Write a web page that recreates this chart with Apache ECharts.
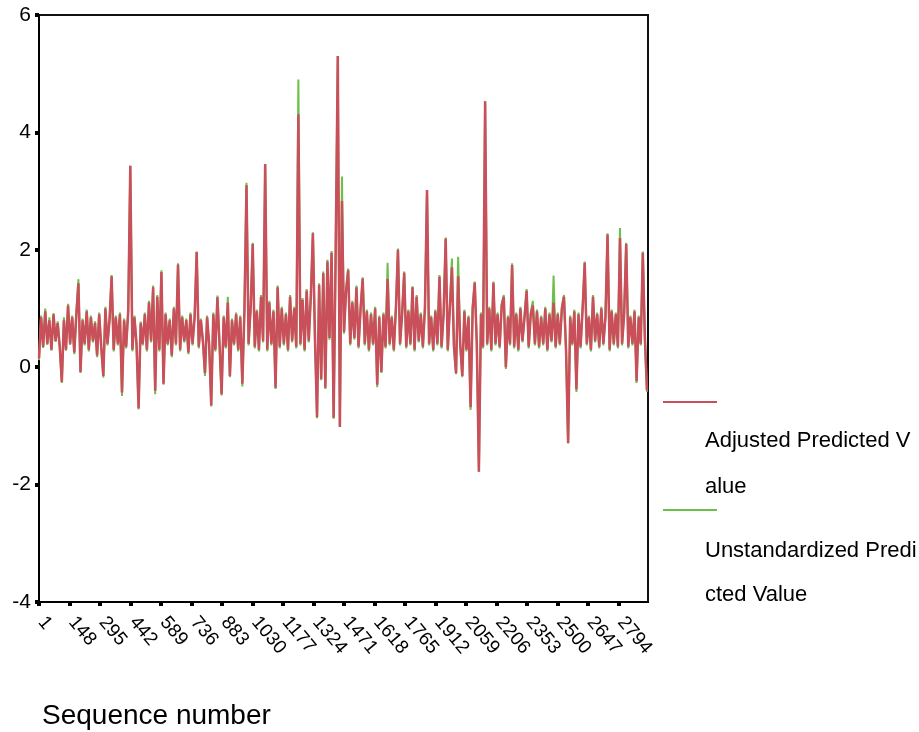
<!DOCTYPE html>
<html>
<head>
<meta charset="utf-8">
<title>Sequence chart</title>
<script src="https://cdn.jsdelivr.net/npm/echarts@6/dist/echarts.min.js"></script>
<style>
    html, body { margin: 0; padding: 0; background: #fff; }
    #chart { width: 919px; height: 732px; }
</style>
</head>
<body>
<div id="chart"></div>
<script>
    // one reading every 10 sequence numbers, first at 1
    var seqStart = 1;
    var seqStep = 10;
    var xTicks = [1, 148, 295, 442, 589, 736, 883, 1030, 1177, 1324, 1471, 1618, 1765, 1912, 2059, 2206, 2353, 2500, 2647, 2794];
    var yTicks = [-4, -2, 0, 2, 4, 6];

    // Adjusted Predicted Value (red)
    var adjusted = [
        0.15, 0.85, 0.35, 0.95, 0.4, 0.8, 0.3, 0.9, 0.45, 0.75,
        0.35, -0.25, 0.8, 0.3, 1.05, 0.4, 0.85, 0.25, 0.9, 1.43,
        -0.08, 0.8, 0.4, 0.95, 0.3, 0.85, 0.45, 0.75, 0.2, 0.9,
        0.35, -0.15, 1.0, 0.4, 0.8, 1.55, 0.3, 0.85, 0.4, 0.9,
        -0.43, 0.8, 0.35, 0.95, 3.43, 0.3, 0.85, 0.4, -0.7, 0.75,
        0.4, 0.9, 0.3, 1.1, 0.45, 1.36, -0.4, 1.2, 0.3, 1.62,
        -0.28, 0.9, 0.4, 0.8, 0.2, 1.0, 0.4, 1.75, 0.3, 0.85,
        0.45, 0.8, 0.25, 0.9, 0.4, 0.85, 1.96, 0.35, 0.8, 0.45,
        -0.1, 0.85, 0.4, -0.65, 0.9, 0.3, 1.19, 0.4, -0.46, 0.85,
        0.35, 1.1, -0.15, 0.8, 0.4, 0.9, 0.3, 0.85, -0.28, 0.95,
        3.1, 0.4, 1.0, 2.1, 0.35, 0.95, 0.3, 1.2, 0.45, 3.46,
        0.3, 1.1, 0.4, 0.95, -0.35, 1.36, 0.35, 1.0, 0.4, 0.9,
        0.3, 1.2, 0.45, 1.0, 0.35, 4.31, 0.4, 1.15, 0.3, 1.3,
        0.45, 1.2, 2.28, 0.5, -0.85, 1.4, -0.2, 1.6, -0.35, 1.8,
        0.5, 1.95, -0.86, 2.05, 5.3, -1.02, 2.83, 0.6, 1.3, 1.65,
        0.4, 1.1, 0.5, 1.36, 0.35, 1.0, 1.51, 0.4, 0.95, 0.3,
        0.9, 0.4, 1.0, -0.3, 0.85, -0.08, 0.9, 0.35, 1.5, 0.4,
        0.85, 0.3, 1.0, 2.0, 0.4, 0.9, 1.61, 0.35, 0.95, 0.4,
        1.36, 0.3, 1.2, 0.45, 0.9, 0.35, 1.0, 3.02, 0.4, 0.85,
        0.3, 0.95, 0.4, 1.54, 0.35, 0.9, 2.19, 0.3, 1.0, 1.7,
        0.35, -0.1, 1.55, 0.4, -0.15, 0.95, 0.3, 0.85, -0.68, 1.0,
        1.44, 0.4, -1.78, 0.9, 0.35, 4.53, 0.4, 1.0, 0.3, 1.44,
        0.4, 0.9, 0.35, 1.05, 1.2, 0.0, 0.85, 0.4, 1.74, 0.35,
        0.9, 0.3, 1.0, 0.45, 0.85, 1.3, 0.35, 0.9, 1.05, 0.4,
        0.95, 0.35, 0.85, 0.4, 1.0, 0.3, 0.9, 0.45, 1.1, 0.35,
        0.9, 0.4, 1.0, 1.2, 0.3, -1.29, 0.85, 0.4, 0.95, -0.38,
        0.9, 0.35, 1.0, 1.78, 0.4, 0.85, 0.3, 1.2, 0.45, 0.9,
        0.35, 1.0, 0.4, 0.85, 2.26, 0.3, 0.95, 0.4, 0.9, 0.35,
        2.2, 0.4, 0.9, 2.1, 0.35, 0.85, 0.4, 0.95, -0.24, 0.85,
        0.4, 1.95, 0.5, -0.39
    ];

    // Unstandardized Predicted Value (green), mostly hidden under the red line
    var unstandardized = [
        0.12, 0.88, 0.33, 1.0, 0.38, 0.85, 0.28, 0.92, 0.43, 0.78,
        0.33, -0.27, 0.85, 0.28, 1.08, 0.38, 0.88, 0.22, 0.93, 1.5,
        -0.1, 0.83, 0.37, 0.98, 0.27, 0.88, 0.42, 0.78, 0.17, 0.93,
        0.33, -0.18, 1.03, 0.37, 0.83, 1.57, 0.27, 0.88, 0.37, 0.93,
        -0.49, 0.83, 0.32, 0.98, 3.43, 0.27, 0.88, 0.37, -0.72, 0.78,
        0.37, 0.93, 0.27, 1.13, 0.42, 1.39, -0.46, 1.23, 0.27, 1.65,
        -0.3, 0.93, 0.37, 0.83, 0.17, 1.03, 0.37, 1.77, 0.27, 0.88,
        0.42, 0.83, 0.22, 0.93, 0.37, 0.88, 1.97, 0.32, 0.83, 0.42,
        -0.15, 0.88, 0.37, -0.67, 0.93, 0.27, 1.22, 0.37, -0.48, 0.88,
        0.32, 1.2, -0.17, 0.83, 0.37, 0.93, 0.27, 0.88, -0.33, 0.98,
        3.14, 0.37, 1.03, 2.12, 0.32, 0.98, 0.27, 1.23, 0.42, 3.46,
        0.27, 1.13, 0.37, 0.98, -0.37, 1.39, 0.32, 1.03, 0.37, 0.93,
        0.27, 1.23, 0.42, 1.03, 0.32, 4.9, 0.37, 1.18, 0.27, 1.33,
        0.42, 1.23, 2.3, 0.47, -0.87, 1.43, -0.22, 1.63, -0.37, 1.83,
        0.47, 1.98, -0.88, 2.07, 5.3, -1.02, 3.25, 0.57, 1.33, 1.68,
        0.37, 1.13, 0.47, 1.39, 0.32, 1.03, 1.53, 0.37, 0.98, 0.27,
        0.93, 0.37, 1.03, -0.34, 0.88, -0.1, 0.93, 0.32, 1.78, 0.37,
        0.88, 0.27, 1.03, 2.02, 0.37, 0.93, 1.63, 0.32, 0.98, 0.37,
        1.38, 0.27, 1.23, 0.42, 0.93, 0.32, 1.03, 3.02, 0.37, 0.88,
        0.27, 0.98, 0.37, 1.57, 0.32, 0.93, 2.21, 0.27, 1.03, 1.85,
        0.32, -0.12, 1.88, 0.37, -0.17, 0.98, 0.27, 0.88, -0.73, 1.03,
        1.46, 0.37, -1.78, 0.93, 0.32, 4.53, 0.37, 1.03, 0.27, 1.46,
        0.37, 0.93, 0.32, 1.08, 1.23, -0.03, 0.88, 0.37, 1.77, 0.32,
        0.93, 0.27, 1.03, 0.42, 0.88, 1.33, 0.32, 0.93, 1.13, 0.37,
        0.98, 0.32, 0.88, 0.37, 1.03, 0.27, 0.93, 0.42, 1.56, 0.32,
        0.93, 0.37, 1.03, 1.23, 0.27, -1.3, 0.88, 0.37, 0.98, -0.42,
        0.93, 0.32, 1.03, 1.8, 0.37, 0.88, 0.27, 1.23, 0.42, 0.93,
        0.32, 1.03, 0.37, 0.88, 2.28, 0.27, 0.98, 0.37, 0.93, 0.32,
        2.37, 0.37, 0.93, 2.12, 0.32, 0.88, 0.37, 0.98, -0.27, 0.88,
        0.37, 1.97, 0.47, -0.42
    ];

    var red = '#c94f5b';
    var green = '#6cc04a';
    var font = '"Liberation Sans", Arial, sans-serif';

    function toPoints(values) {
        return values.map(function (v, i) {
            return [seqStart + i * seqStep, v];
        });
    }

    var chart = echarts.init(document.getElementById('chart'));
    chart.setOption({
        animation: false,
        backgroundColor: '#fff',
        title: {
            text: 'Sequence number',
            left: 37,
            top: 697,
            textStyle: { fontFamily: font, fontSize: 28, fontWeight: 'normal', color: '#000' }
        },
        grid: {
            left: 39,
            right: 271,
            top: 15,
            bottom: 130,
            show: true,
            borderColor: '#111',
            borderWidth: 2,
            backgroundColor: 'transparent'
        },
        xAxis: {
            type: 'value',
            min: 1,
            max: 2936,
            interval: 147,
            axisLine: { onZero: false, lineStyle: { color: '#000', width: 2 } },
            axisTick: { length: 4, lineStyle: { color: '#000', width: 4 } },
            splitLine: { show: false },
            axisLabel: {
                rotate: -50,
                margin: 14,
                padding: [0, 0, 0, 4],
                showMaxLabel: false,
                fontFamily: font,
                fontSize: 19,
                color: '#000',
                formatter: function (v) {
                    return xTicks.indexOf(v) >= 0 ? String(v) : '';
                }
            }
        },
        yAxis: {
            type: 'value',
            min: yTicks[0],
            max: yTicks[yTicks.length - 1],
            interval: 2,
            axisLine: { show: true, lineStyle: { color: '#000', width: 2 } },
            axisTick: { show: true, length: 4, lineStyle: { color: '#000', width: 4 } },
            splitLine: { show: false },
            axisLabel: { margin: 8, fontFamily: font, fontSize: 21, color: '#000' }
        },
        series: [
            {
                name: 'Unstandardized Predicted Value',
                type: 'line',
                data: toPoints(unstandardized),
                showSymbol: false,
                lineStyle: { color: green, width: 2 },
                itemStyle: { color: green }
            },
            {
                name: 'Adjusted Predicted Value',
                type: 'line',
                data: toPoints(adjusted),
                showSymbol: false,
                lineStyle: { color: red, width: 2.5 },
                itemStyle: { color: red }
            }
        ],
        // legend drawn by hand: line above wrapped text, like the original
        graphic: [
            { type: 'line', shape: { x1: 663, y1: 402, x2: 717, y2: 402 }, style: { stroke: red, lineWidth: 2 } },
            { type: 'text', left: 705, top: 430, style: { text: 'Adjusted Predicted V', font: '22px ' + font, fill: '#000' } },
            { type: 'text', left: 705, top: 476, style: { text: 'alue', font: '22px ' + font, fill: '#000' } },
            { type: 'line', shape: { x1: 663, y1: 510, x2: 717, y2: 510 }, style: { stroke: green, lineWidth: 2 } },
            { type: 'text', left: 705, top: 540, style: { text: 'Unstandardized Predi', font: '22px ' + font, fill: '#000' } },
            { type: 'text', left: 705, top: 584, style: { text: 'cted Value', font: '22px ' + font, fill: '#000' } }
        ]
    });
</script>
</body>
</html>
